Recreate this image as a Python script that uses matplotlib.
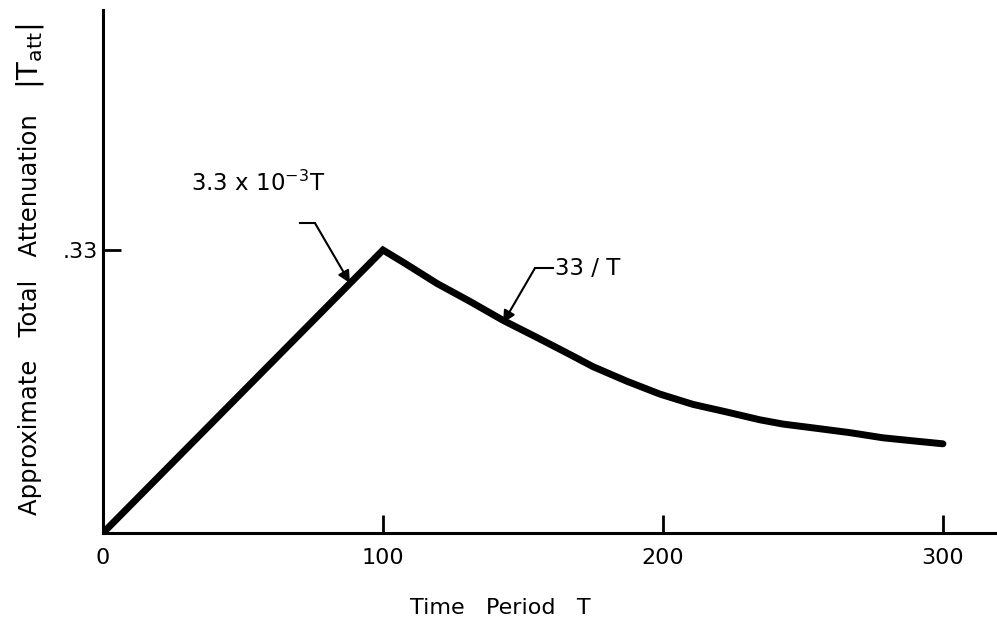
import matplotlib.pyplot as plt

# attenuation vs period
T = [0, 100, 107.1, 119.3, 131.1, 142.9, 155, 165.7, 175, 187.1, 198.9,
     210.7, 222.9, 234.6, 242.9, 255, 266.8, 278.6, 290.7, 300]
att = [0.0, 0.33, 0.316, 0.291, 0.270, 0.248, 0.228, 0.210, 0.194, 0.177, 0.162,
       0.150, 0.141, 0.132, 0.127, 0.122, 0.117, 0.111, 0.107, 0.104]

x_ticks = [0, 100, 200, 300]
x_ticklabels = ['0', '100', '200', '300']
y_ticks = [0.33]
y_ticklabels = ['.33']

fig = plt.figure(figsize=(9.97, 6.26), dpi=100)
ax = fig.add_axes([0.1033, 0.1486, 0.8947, 0.8355])

ax.plot(T, att, color='black', lw=5, solid_joinstyle='miter', solid_capstyle='round')

ax.set_xlim(0, 318.6)
ax.set_ylim(0, 0.61)

for s in ['top', 'right']:
    ax.spines[s].set_visible(False)
for s in ['left', 'bottom']:
    ax.spines[s].set_linewidth(2.2)

ax.set_xticks(x_ticks)
ax.set_xticklabels(x_ticklabels)
ax.set_yticks(y_ticks)
ax.set_yticklabels(y_ticklabels)
ax.tick_params(axis='both', direction='in', length=13, width=2, labelsize=16)
ax.tick_params(axis='x', pad=11)
ax.tick_params(axis='y', pad=4)
# no tick mark at the origin
ax.xaxis.get_major_ticks()[0].tick1line.set_visible(False)

ax.set_xlabel('Time   Period   T', fontsize=16)
ax.xaxis.set_label_coords(0.445, -0.125)

# y label in two pieces so the symbol can be drawn larger
fig.text(0.030, 0.497, 'Approximate   Total   Attenuation', fontsize=17.5,
         rotation=90, ha='center', va='center')
fig.text(0.030, 0.910, r'$|\mathrm{T}_{\mathrm{att}}|$', fontsize=21,
         rotation=90, ha='center', va='center')

# leader for the rising branch
ax.text(55.4, 0.408, r'3.3 x 10$^{-3}$T', fontsize=16.5, ha='center', va='center')
ax.plot([70.4, 75.7], [0.3615, 0.3615], color='black', lw=1.5)
ax.annotate('', xy=(88.2, 0.2915), xytext=(75.7, 0.3615),
            arrowprops=dict(arrowstyle='-|>', color='black', lw=1.5,
                            mutation_scale=18, shrinkA=0, shrinkB=0))

# leader for the decaying branch
ax.text(161.5, 0.309, '33 / T', fontsize=16.5, ha='left', va='center')
ax.plot([154.3, 160.7], [0.309, 0.309], color='black', lw=1.5)
ax.annotate('', xy=(142.9, 0.245), xytext=(154.3, 0.309),
            arrowprops=dict(arrowstyle='-|>', color='black', lw=1.5,
                            mutation_scale=18, shrinkA=0, shrinkB=0))

fig.savefig('out.png', dpi=100)
